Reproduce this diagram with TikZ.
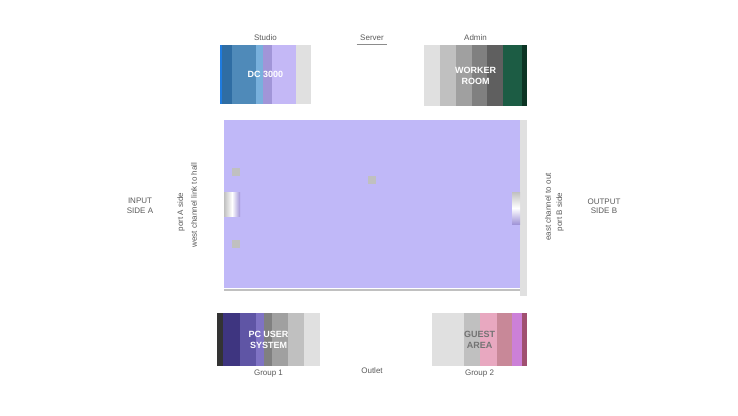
\documentclass[tikz,border=0pt]{standalone}
\usepackage{fontspec}
\setmainfont{Liberation Sans}
\usetikzlibrary{positioning}
\definecolor{hallfill}{RGB}{192,184,248}
\definecolor{rimblue}{RGB}{30,123,224}
\definecolor{blueA}{RGB}{47,109,163}
\definecolor{blueB}{RGB}{79,138,185}
\definecolor{blueC}{RGB}{120,176,220}
\definecolor{lilacA}{RGB}{161,149,216}
\definecolor{lilacB}{RGB}{196,184,246}
\definecolor{paleA}{RGB}{224,224,224}
\definecolor{paleB}{RGB}{192,192,192}
\definecolor{paleC}{RGB}{160,160,160}
\definecolor{paleD}{RGB}{128,128,128}
\definecolor{paleE}{RGB}{95,95,95}
\definecolor{pine}{RGB}{28,92,68}
\definecolor{pineRim}{RGB}{12,52,36}
\definecolor{indigoA}{RGB}{62,53,128}
\definecolor{indigoB}{RGB}{95,85,165}
\definecolor{indigoC}{RGB}{127,115,196}
\definecolor{rose}{RGB}{232,168,192}
\definecolor{roseDark}{RGB}{200,136,152}
\definecolor{orchid}{RGB}{204,128,216}
\definecolor{roseRim}{RGB}{160,80,112}
\tikzset{
every node/.style={font=\footnotesize, text=black!65}, % small grey labels everywhere
room/.style={inner sep=0pt, font=\small\bfseries, align=center}, % text on a striped room
hall/.style={fill=hallfill, inner sep=0pt, minimum width=296pt, minimum height=168pt}, % big central area
dot/.style={fill=paleB, inner sep=0pt, minimum size=8pt}, % small grey marker
port/.style={inner sep=0pt}, % small opening on the hall sides
}
\begin{document}
\begin{tikzpicture}[x=1pt, y=-1pt]
    \useasboundingbox (0,0) rectangle (738,415);

    % central hall
    \node[hall] (hall) at (372,204) {};
    \fill[paleA] (hall.north east) rectangle ++(7,176);
    \draw[paleB, line width=2pt] (hall.south west) ++(0,2) -- ++(296,0);
    \node[dot] (d1) at (236,172) {};
    \node[dot] (d2) at (372,180) {};
    \node[dot] (d3) at (236,244) {};
    \node[port, minimum width=16pt, minimum height=24pt, left color=paleB, right color=lilacA, middle color=white] (pin) at (232,204) {};
    \node[port, minimum width=8pt, minimum height=32pt, top color=paleB, bottom color=lilacA, middle color=white] (pout) at (516,208) {};

    % rooms in the corners
    \foreach \xa/\xb/\c in {220/222/rimblue, 222/232/blueA, 232/256/blueB, 256/263/blueC, 263/272/lilacA, 272/296/lilacB, 296/311/paleA}
        \fill[\c] (\xa,45) rectangle (\xb,104);
    \node[room, text=white, minimum width=91pt, minimum height=59pt] (dc) at (265.5,74.5) {DC 3000};

    \foreach \xa/\xb/\c in {424/440/paleA, 440/456/paleB, 456/472/paleC, 472/487/paleD, 487/503/paleE, 503/522/pine, 522/527/pineRim}
        \fill[\c] (\xa,45) rectangle (\xb,106);
    \node[room, text=white, minimum width=103pt, minimum height=61pt] (worker) at (475.5,75.5) {WORKER\\ROOM};

    \foreach \xa/\xb/\c in {217/223/black!80, 223/240/indigoA, 240/256/indigoB, 256/264/indigoC, 264/272/paleD, 272/288/paleC, 288/304/paleB, 304/320/paleA}
        \fill[\c] (\xa,313) rectangle (\xb,366);
    \node[room, text=white, minimum width=103pt, minimum height=53pt] (pc) at (268.5,339.5) {PC USER\\SYSTEM};

    \foreach \xa/\xb/\c in {432/464/paleA, 464/480/paleB, 480/497/rose, 497/512/roseDark, 512/522/orchid, 522/527/roseRim}
        \fill[\c] (\xa,313) rectangle (\xb,366);
    \node[room, text=black!55, minimum width=95pt, minimum height=53pt] (guest) at (479.5,339.5) {GUEST\\AREA};

    % labels round the hall
    \node[above=1pt of dc] (studio) {Studio};
    \node (srv) at (372,38) {Server};
    \draw[black!45] (srv.south west) -- (srv.south east);
    \node[above=1pt of worker] (admin) {Admin};
    \node[below=0pt of pc] (g1) {Group 1};
    \node (outlet) at (372,371) {Outlet};
    \node[below=0pt of guest] (g2) {Group 2};

    \node[align=center] (src) at (140,206) {INPUT\\SIDE A};
    \node[rotate=90] (lw) at (194,205) {west channel link to hall};
    \node[rotate=90] (lp) at (181,212) {port A side};
    \node[rotate=90] (rw) at (548,207) {east channel to out};
    \node[rotate=90] (rp) at (560,212) {port B side};
    \node[align=center] (dst) at (604,206) {OUTPUT\\SIDE B};
\end{tikzpicture}
\end{document}
